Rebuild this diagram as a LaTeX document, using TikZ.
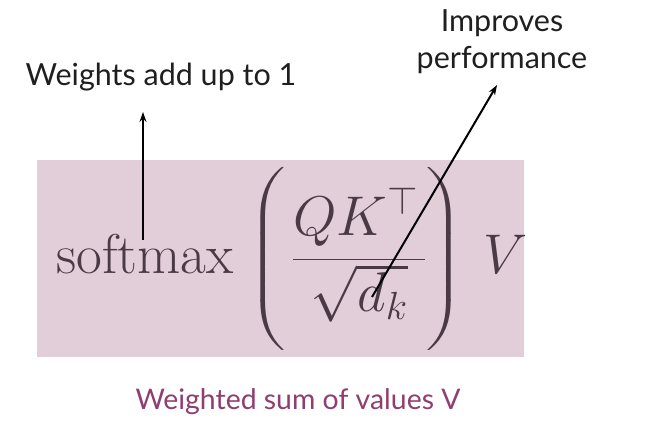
\RequirePackage{fix-cm}
\documentclass[tikz,border=0pt]{standalone}
\usepackage{amsmath}
\usepackage{graphicx}
\usepackage{fontspec}
\setsansfont{Lato}
\usetikzlibrary{positioning,arrows.meta}
\definecolor{boxpink}{RGB}{226,206,217}
\definecolor{capviolet}{RGB}{142,62,112}
\definecolor{mathink}{RGB}{74,58,70}
\newcommand{\bigparen}[1]{\vcenter{\hbox{\scalebox{1.7}[1.12]{$\displaystyle\Bigg#1$}}}}
\begin{document}
\begin{tikzpicture}[
  x=1pt, y=-1pt,
  label/.style={font=\sffamily\fontsize{30.5}{37}\selectfont, text=black!88, align=center, inner sep=0pt},
  pointer/.style={-{Stealth[length=10pt,width=7pt]}, line width=2pt, black}
]
\useasboundingbox (0,0) rectangle (672,424);

\fill[boxpink] (37,160) rectangle (524,357);
\node[text=mathink, inner sep=0pt, anchor=west] (formula) at (56,259)
  {\fontsize{56}{64}\selectfont$\displaystyle \mathrm{softmax}\mkern5mu\mathopen{\bigparen(}\mkern2mu\frac{QK^{\top}\hspace{0.12em}}{\sqrt{d_k}}\mkern0mu\mathclose{\bigparen)}\mkern6.5mu V$};

\node[label] (weights) at (161,77) {Weights add up to 1};
\node[label] (improves) at (502,42) {Improves\\performance};
\node[label, text=capviolet, font=\sffamily\fontsize{28.4}{32}\selectfont] (caption) at (298,402) {Weighted sum of values V};

\coordinate (wfrom) at (143,240);
\coordinate (wto) at (143,112);
\coordinate (pfrom) at (372,297);
\coordinate (pto) at (497,85);

\draw[pointer] (wfrom) -- (wto);
\draw[pointer] (pfrom) -- (pto);
\end{tikzpicture}
\end{document}
